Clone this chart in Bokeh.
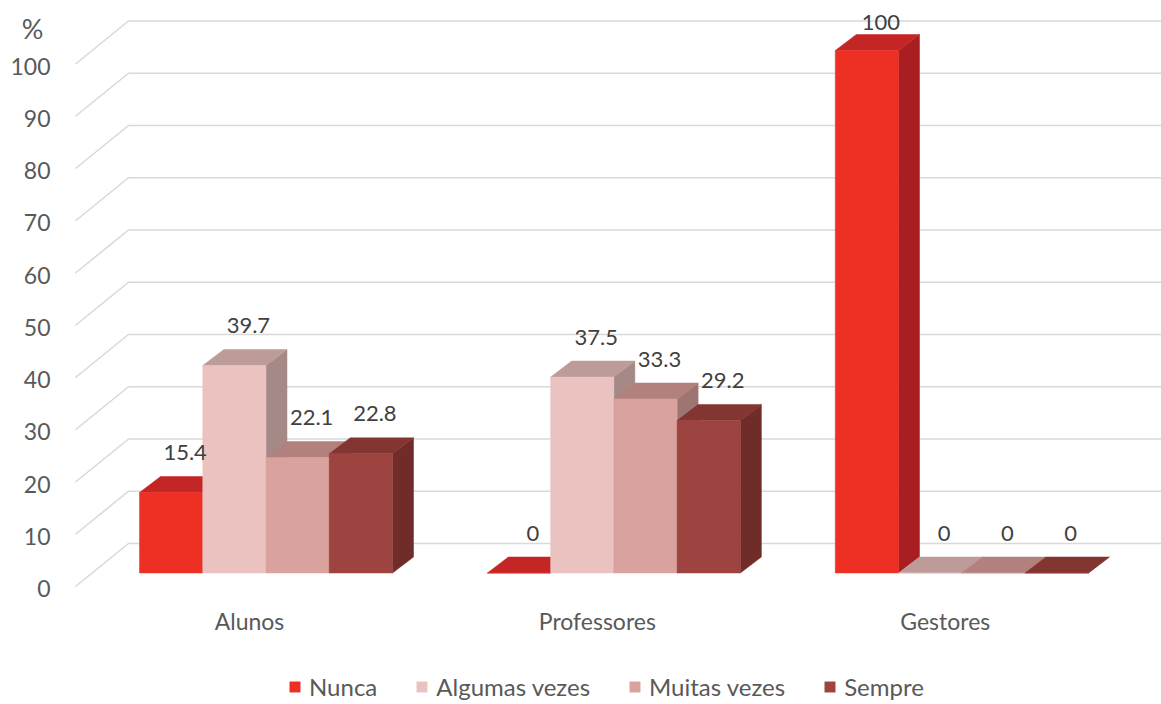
from bokeh.plotting import figure
from bokeh.models import Range1d, Legend, LegendItem
from bokeh.core.properties import value
from bokeh.embed import file_html
from bokeh.resources import INLINE

# ---- data ----
categories = ["Alunos", "Professores", "Gestores"]
series = ["Nunca", "Algumas vezes", "Muitas vezes", "Sempre"]
nunca = [15.4, 0, 100]
algumas = [39.7, 37.5, 0]
muitas = [22.1, 33.3, 0]
sempre = [22.8, 29.2, 0]
y_ticks = [0, 10, 20, 30, 40, 50, 60, 70, 80, 90, 100]
y_title = "%"

values = [nunca, algumas, muitas, sempre]

# ---- styles ----
front_colors = ["#EE3024", "#EAC3C1", "#D9A29F", "#9E4440"]
top_colors = ["#C42625", "#BC9B99", "#B2807D", "#823531"]
side_colors = ["#A81E21", "#A58987", "#9E7572", "#6F2C29"]
FONT = "Lato"

W, H = 1161, 704
PX_X = 63.25     # pixels per bar width unit
PX_Y = 5.225     # pixels per value unit
ORIGIN_X = 139   # screen px of x=0
ORIGIN_Y = 572.5  # screen px of y=0

x_start = -ORIGIN_X / PX_X
x_end = x_start + W / PX_X
y_end = ORIGIN_Y / PX_Y
y_start = y_end - H / PX_Y

p = figure(width=W, height=H, output_backend="svg", toolbar_location=None,
           x_range=Range1d(x_start, x_end), y_range=Range1d(y_start, y_end),
           x_axis_location=None, y_axis_location=None, min_border=0,
           outline_line_color=None, background_fill_color="white",
           border_fill_color="white")
p.grid.visible = False

def px2x(px):
    return px / PX_X

def px2y(px):
    return px / PX_Y

GROUP_PITCH = 5.5
BAR_DX, BAR_DY = px2x(21), px2y(16)
WALL_FRONT_DX, WALL_FRONT_DY = px2x(-64), px2y(-13.5)
WALL_BACK_DX, WALL_BACK_DY = px2x(-11), px2y(29.5)

# ---- walls / gridlines ----
gx, gy = [], []
for t in y_ticks:
    gx.append([WALL_FRONT_DX, WALL_BACK_DX, x_end])
    gy.append([t + WALL_FRONT_DY, t + WALL_BACK_DY, t + WALL_BACK_DY])
p.multi_line(gx, gy, line_color="#D9D9D9", line_width=1.6)

# ---- 3D bars ----
legend_items = []
for s, vals in enumerate(values):
    xs_f, tops = [], []
    side_x, side_y, top_x, top_y = [], [], [], []
    for g, v in enumerate(vals):
        x0 = g * GROUP_PITCH + s
        x1 = x0 + 1
        xs_f.append(x0 + 0.5)
        tops.append(v)
        side_x.append([x1, x1 + BAR_DX, x1 + BAR_DX, x1])
        side_y.append([0, BAR_DY, v + BAR_DY, v])
        top_x.append([x0, x1, x1 + BAR_DX, x0 + BAR_DX])
        top_y.append([v, v, v + BAR_DY, v + BAR_DY])
    p.patches(side_x, side_y, fill_color=side_colors[s], line_color=side_colors[s], line_width=0.5)
    p.patches(top_x, top_y, fill_color=top_colors[s], line_color=top_colors[s], line_width=0.5)
    r = p.vbar(x=xs_f, top=tops, bottom=0, width=1, fill_color=front_colors[s],
               line_color=front_colors[s], line_width=0.5)
    legend_items.append(LegendItem(label=series[s], renderers=[r]))

# ---- data labels ----
lab_x, lab_y, lab_t = [], [], []
label_cap = px2y(572.5 - 22)
for s, vals in enumerate(values):
    for g, v in enumerate(vals):
        lab_x.append(g * GROUP_PITCH + s + 0.5 + px2x(14))
        lab_y.append(min(v + px2y(40), label_cap))
        lab_t.append(f"{v:g}")
p.text(x=lab_x, y=lab_y, text=lab_t, text_font=value(FONT), text_font_size=value("22px"),
       text_color="#404040", text_align="center", text_baseline="middle")

# ---- category labels ----
cat_x = [g * GROUP_PITCH + 2 - px2x(16.5) for g in range(len(categories))]
cat_y = [px2y(-47.5)] * len(categories)
p.text(x=cat_x, y=cat_y, text=categories, text_font=value(FONT), text_font_size=value("23px"),
       text_color="#595959", text_align="center", text_baseline="middle")

# ---- y tick labels ----
tick_x = [px2x(50 - 139)] * len(y_ticks)
tick_y = [t - px2y(15.5) for t in y_ticks]
p.text(x=tick_x, y=tick_y, text=[str(t) for t in y_ticks], text_font=value(FONT),
       text_font_size=value("23px"), text_color="#595959", text_align="right",
       text_baseline="middle")
p.text(x=[px2x(32 - 139)], y=[px2y(572.5 - 28)], text=[y_title], text_font=value(FONT),
       text_font_size=value("27px"), text_color="#595959", text_align="center",
       text_baseline="middle")

# ---- legend ----
legend = Legend(items=legend_items, orientation="horizontal", location=(288, 3),
                glyph_width=13, glyph_height=13, label_standoff=8, spacing=38,
                padding=0, margin=0, border_line_color=None, background_fill_alpha=0,
                label_text_font=FONT, label_text_font_size="24px",
                label_text_color="#595959")
p.add_layout(legend, "center")

open("out.html", "w").write(file_html(p, INLINE))
